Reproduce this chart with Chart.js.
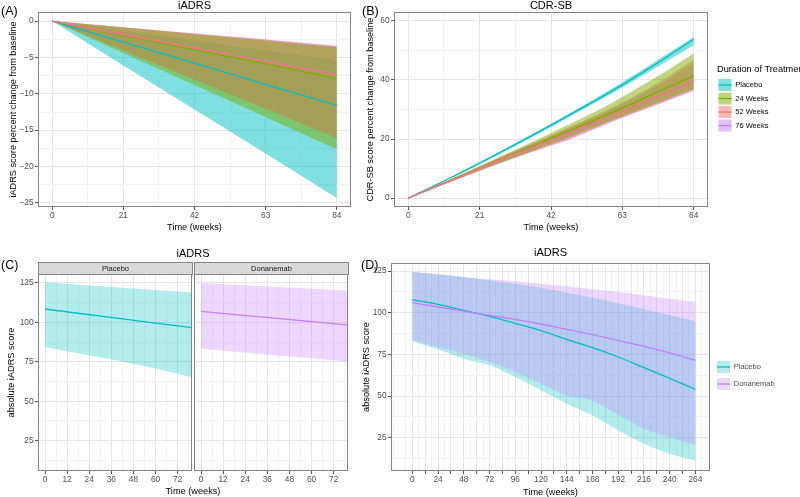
<!DOCTYPE html>
<html>
<head>
<meta charset="utf-8">
<script src="https://cdn.jsdelivr.net/npm/chart.js@4.4.1/dist/chart.umd.min.js"></script>
<style>
html,body{margin:0;padding:0;background:#fff;}
body{position:relative;width:800px;height:497px;overflow:hidden;font-family:"Liberation Sans",Arial,sans-serif;}
canvas{position:absolute;display:block;}
.tag{position:absolute;font-size:12.5px;line-height:13px;color:#000;}
.ttl{position:absolute;text-align:center;font-size:11px;line-height:11px;color:#000;}
.strip{position:absolute;box-sizing:border-box;background:#d9d9d9;border:1px solid #858585;font-size:7.5px;line-height:11px;text-align:center;color:#1a1a1a;}
.axt{position:absolute;text-align:center;font-size:9.2px;line-height:9px;color:#000;}
</style>
</head>
<body>
<canvas id="cA" width="360" height="235" style="left:0;top:0;width:360px;height:235px"></canvas>
<canvas id="cB" width="438" height="235" style="left:362px;top:0;width:438px;height:235px"></canvas>
<canvas id="cC1" width="193" height="257" style="left:0;top:240px;width:193px;height:257px"></canvas>
<canvas id="cC2" width="160" height="257" style="left:193px;top:240px;width:160px;height:257px"></canvas>
<canvas id="cD" width="444" height="257" style="left:356px;top:240px;width:444px;height:257px"></canvas>
<div class="tag" style="left:1px;top:5px">(A)</div>
<div class="tag" style="left:362px;top:5px">(B)</div>
<div class="tag" style="left:1px;top:259px">(C)</div>
<div class="tag" style="left:361px;top:259px">(D)</div>
<div class="ttl" style="left:38px;top:248px;width:310px">iADRS</div>
<div class="strip" style="left:38px;top:262px;width:155px;height:13px">Placebo</div>
<div class="strip" style="left:194px;top:262px;width:155px;height:13px">Donanemab</div>
<div class="axt" style="left:38px;top:487px;width:310px">Time (weeks)</div>
<script>
// ================= DATA =================
// Panel A: iADRS percent change from baseline
const weeksA = [0, 21, 42, 63, 84];
const aPlaceboMean = [0, -2.9, -5.8, -8.7, -11.6];
const aPlaceboUp   = [0, -1.35, -2.7, -4.05, -5.4];
const aPlaceboLo   = [0, -6.1, -12.15, -18.2, -24.3];
const a24Mean = [0, -2.0, -3.95, -5.9, -7.9];
const a24Up   = [0, -0.9, -1.8, -2.7, -3.6];
const a24Lo   = [0, -4.4, -8.8, -13.2, -17.6];
const a52Mean = [0, -1.85, -3.7, -5.55, -7.4];
const a52Up   = [0, -0.85, -1.7, -2.55, -3.45];
const a52Lo   = [0, -4.05, -8.05, -12.1, -16.1];
const a76Mean = [0, -1.85, -3.7, -5.55, -7.4];
const a76Up   = [0, -0.85, -1.7, -2.55, -3.4];
const a76Lo   = [0, -4.0, -8.0, -12.0, -16.0];

// Panel B: CDR-SB percent change from baseline
const weeksB = [0, 12, 24, 36, 48, 60, 72, 84];
const bPlaceboMean = [0, 6.6, 13.6, 20.9, 28.5, 36.3, 44.8, 53.8];
const bPlaceboUp   = [0, 6.8, 14.0, 21.4, 29.1, 37.1, 45.8, 54.6];
const bPlaceboLo   = [0, 6.4, 13.2, 20.4, 27.9, 35.5, 43.6, 51.8];
const b24Mean = [0, 5.8, 11.7, 17.4, 23.1, 29.0, 35.2, 41.4];
const b24Up   = [0, 6.1, 12.4, 18.7, 25.3, 32.3, 40.3, 49.0];
const b24Lo   = [0, 5.3, 10.6, 15.8, 21.0, 26.4, 31.7, 37.0];
const b52Mean = [0, 5.7, 11.5, 17.0, 22.5, 28.0, 33.8, 39.8];
const b52Up   = [0, 6.1, 12.3, 18.3, 24.3, 30.7, 38.0, 46.8];
const b52Lo   = [0, 5.3, 10.6, 15.5, 20.4, 26.1, 31.3, 36.6];
const b76Mean = [0, 5.6, 11.4, 16.9, 22.4, 27.9, 33.7, 39.6];
const b76Up   = [0, 6.0, 12.1, 18.0, 24.0, 30.2, 37.2, 45.6];
const b76Lo   = [0, 5.2, 10.5, 15.4, 20.1, 25.8, 31.0, 36.3];

// Panel C: absolute iADRS by arm (facets)
const weeksC = [0, 20, 40, 60, 80];
const cPlaceboMean = [108.5, 105.5, 102.6, 99.6, 96.7];
const cPlaceboUp   = [125.4, 123.8, 122.2, 120.6, 118.9];
const cPlaceboLo   = [84.2, 80.0, 75.6, 70.8, 65.2];
const cDonaMean = [107.0, 104.8, 102.7, 100.5, 98.3];
const cDonaUp   = [125.0, 123.8, 122.6, 121.4, 120.2];
const cDonaLo   = [83.3, 81.3, 79.2, 77.2, 75.1];

// Panel D: absolute iADRS long-term projection
const weeksD = [0, 24, 48, 72, 96, 120, 144, 168, 192, 216, 240, 264];
const dPlaceboMean = [107.8, 105.0, 101.4, 97.8, 93.6, 89.2, 84.0, 79.0, 73.4, 67.0, 60.6, 54.0];
const dPlaceboUp   = [124.4, 122.9, 121.4, 119.5, 117.4, 114.9, 112.0, 109.0, 105.6, 102.0, 98.4, 94.8];
const dPlaceboLo   = [82.8, 78.0, 72.4, 68.4, 61.4, 53.4, 45.4, 38.4, 29.4, 21.4, 15.4, 11.2];
const dDonaMean = [106.0, 103.4, 100.9, 98.4, 96.0, 93.2, 90.0, 86.8, 83.4, 79.8, 75.9, 71.4];
const dDonaUp   = [124.6, 123.0, 121.4, 120.0, 118.8, 117.4, 115.8, 114.0, 112.4, 110.4, 108.4, 106.4];
const dDonaLo   = [83.4, 79.4, 75.4, 70.4, 64.4, 57.4, 50.4, 47.0, 38.8, 30.4, 25.4, 20.4];

// Legends / categories
const durationGroups = ['Placebo', '24 Weeks', '52 Weeks', '76 Weeks'];
const armGroups = ['Placebo', 'Donanemab'];

// Tick labels and breaks
const ticksA_x = [0, 21, 42, 63, 84];
const minorA_x = [10.5, 31.5, 52.5, 73.5];
const ticksA_y = [0, -5, -10, -15, -20, -25];
const minorA_y = [-2.5, -7.5, -12.5, -17.5, -22.5];
const ticksB_y = [0, 20, 40, 60];
const minorB_y = [10, 30, 50];
const ticksC_x = [0, 12, 24, 36, 48, 60, 72];
const minorC_x = [6, 18, 30, 42, 54, 66, 78];
const ticksCD_y = [25, 50, 75, 100, 125];
const minorCD_y = [12.5, 37.5, 62.5, 87.5, 112.5];
const ticksD_x = [0, 24, 48, 72, 96, 120, 144, 168, 192, 216, 240, 264];
const breaksD_x = [12, 36, 60, 84, 108, 132, 156, 180, 204, 228, 252];
const minorD_x = [-18, -6, 6, 18, 30, 42, 54, 66, 78, 90, 102, 114, 126, 138, 150, 162, 174, 186, 198, 210, 222, 234, 246, 258, 270];

// ================= STYLE =================
const FAM = '"Liberation Sans", Arial, sans-serif';
Chart.defaults.font.family = FAM;
Chart.defaults.color = '#4d4d4d';
const CYAN = '#00BFC4', GREEN = '#7CAE00', RED = '#F8766D', PURPLE = '#C77CFF';
const GRID_MAJ = '#e4e4e4', GRID_MIN = '#f2f2f2', TICK_COL = '#555555', BORDER_COL = '#858585';
const TICK_FS = 8.3;
function rgba(hex, a) { const n = parseInt(hex.slice(1), 16); return `rgba(${n >> 16},${(n >> 8) & 255},${n & 255},${a})`; }
const has = (arr, v) => arr.some(t => Math.abs(t - v) < 1e-6);
const fmt = v => v < 0 ? '\u2212' + Math.abs(v) : String(v);

function scale(o) {
  const major = o.major.concat(o.breaks || []);
  const all = major.concat(o.minor || []).sort((a, b) => a - b);
  const vert = o.position === 'left' || o.position === 'right';
  return {
    type: 'linear', position: o.position, min: o.min, max: o.max,
    afterBuildTicks: s => { s.ticks = all.map(v => ({ value: v })); },
    afterFit: s => { if (vert) s.width = o.size; else s.height = o.size; },
    grid: {
      color: c => (c.tick && has(major, c.tick.value)) ? GRID_MAJ : GRID_MIN,
      lineWidth: 1,
      drawTicks: o.drawTicks !== false, tickLength: 3, tickWidth: 1,
      tickColor: c => (c.tick && has(major, c.tick.value)) ? TICK_COL : 'rgba(0,0,0,0)'
    },
    border: { display: false },
    ticks: {
      display: o.labels !== false, autoSkip: false, maxRotation: 0, minRotation: 0,
      padding: vert ? 1.5 : 0.5, font: { size: TICK_FS }, color: '#4d4d4d',
      callback: v => has(o.major, v) ? fmt(v) : ''
    },
    title: o.title ? { display: true, text: o.title, color: '#000', font: { size: 9.2, lineHeight: o.titleLH || 1.2 }, padding: o.titlePad } : { display: false }
  };
}
function dummyRight(w) {
  return { type: 'linear', position: 'right', display: true, grid: { display: false, drawTicks: false }, ticks: { display: false }, border: { display: false }, afterFit: s => { s.width = w; } };
}
const pts = (xs, ys) => xs.map((x, i) => ({ x: x, y: ys[i] }));
function band(xs, up, lo, col, a, order, smooth) {
  const mode = smooth ? 'monotone' : 'default';
  return [
    { data: pts(xs, up), fill: '+1', backgroundColor: rgba(col, a), borderColor: 'rgba(0,0,0,0)', borderWidth: 0, pointRadius: 0, order: order, cubicInterpolationMode: mode },
    { data: pts(xs, lo), fill: false, borderColor: 'rgba(0,0,0,0)', borderWidth: 0, pointRadius: 0, order: order, cubicInterpolationMode: mode }
  ];
}
function meanLine(xs, ys, col, order, smooth) {
  return { data: pts(xs, ys), fill: false, borderColor: col, borderWidth: 1.3, pointRadius: 0, order: order, cubicInterpolationMode: smooth ? 'monotone' : 'default' };
}
const frame = {
  id: 'frame',
  afterDatasetsDraw(ch) {
    const { ctx, chartArea: a } = ch;
    ctx.save(); ctx.strokeStyle = BORDER_COL; ctx.lineWidth = 1;
    const l = Math.round(a.left) + 0.5, t = Math.round(a.top) + 0.5, r = Math.round(a.right) - 0.5, b = Math.round(a.bottom) - 0.5;
    ctx.strokeRect(l, t, r - l, b - t); ctx.restore();
  }
};
const keyLine = {
  id: 'keyLine',
  afterDraw(ch) {
    const lg = ch.legend; if (!lg || !lg.options.display || !lg.legendHitBoxes) return;
    const bw = lg.options.labels.boxWidth, bh = lg.options.labels.boxHeight;
    const ctx = ch.ctx;
    lg.legendHitBoxes.forEach((hb, i) => {
      const it = lg.legendItems[i];
      ctx.save(); ctx.strokeStyle = it.lineColor; ctx.lineWidth = 1.3;
      ctx.beginPath(); const y = hb.top + bh / 2;
      ctx.moveTo(hb.left, y); ctx.lineTo(hb.left + bw, y); ctx.stroke(); ctx.restore();
    });
  }
};
// keeps the legend box at a fixed width so that it reaches the right edge
const legendFix = {
  id: 'legendFix',
  beforeLayout(ch, args, opts) {
    const lg = ch.legend;
    if (lg && !lg.__fixed && opts && opts.width) {
      const f = lg.fit.bind(lg);
      lg.fit = function () { f(); this.width = opts.width; };
      lg.__fixed = true;
    }
  }
};
const base = { responsive: false, animation: false, devicePixelRatio: 1, events: [] };
function titleOpt(text, pt, pb) {
  return { display: true, text: text, fullSize: false, color: '#000', font: { size: 11, weight: 'normal', lineHeight: 1 }, padding: { top: pt, bottom: pb } };
}

// ================= PANEL A =================
const colsDur = [CYAN, GREEN, RED, PURPLE];
new Chart(document.getElementById('cA'), {
  type: 'line',
  data: { datasets: [].concat(
    band(weeksA, aPlaceboUp, aPlaceboLo, CYAN, 0.5, 40, false),
    band(weeksA, a76Up, a76Lo, PURPLE, 0.5, 30, false),
    band(weeksA, a52Up, a52Lo, RED, 0.5, 20, false),
    band(weeksA, a24Up, a24Lo, GREEN, 0.5, 10, false),
    [meanLine(weeksA, aPlaceboMean, CYAN, 4, false),
     meanLine(weeksA, a24Mean, GREEN, 3, false),
     meanLine(weeksA, a76Mean, PURPLE, 2, false),
     meanLine(weeksA, a52Mean, RED, 1, false)]) },
  options: Object.assign({}, base, {
    layout: { padding: { left: 0, right: 9, top: 0, bottom: 0 } },
    plugins: { legend: { display: false }, tooltip: { enabled: false }, title: titleOpt('iADRS', 0, 1) },
    scales: {
      x: scale({ position: 'bottom', min: -4.2, max: 88.2, major: ticksA_x, minor: minorA_x, size: 28, title: 'Time (weeks)', titlePad: { top: 0, bottom: 2.2 } }),
      y: scale({ position: 'left', min: -25.55, max: 1.24, major: ticksA_y, minor: minorA_y, size: 38, title: 'iADRS score percent change from baseline', titlePad: { top: 8, bottom: 0 } })
    }
  }),
  plugins: [frame]
});

// ================= PANEL B =================
new Chart(document.getElementById('cB'), {
  type: 'line',
  data: { datasets: [].concat(
    band(weeksB, bPlaceboUp, bPlaceboLo, CYAN, 0.5, 40, true),
    band(weeksB, b76Up, b76Lo, PURPLE, 0.5, 30, true),
    band(weeksB, b52Up, b52Lo, RED, 0.5, 20, true),
    band(weeksB, b24Up, b24Lo, GREEN, 0.5, 10, true),
    [meanLine(weeksB, bPlaceboMean, CYAN, 4, true),
     meanLine(weeksB, b24Mean, GREEN, 3, true),
     meanLine(weeksB, b76Mean, PURPLE, 2, true),
     meanLine(weeksB, b52Mean, RED, 1, true)]) },
  options: Object.assign({}, base, {
    layout: { padding: { left: 0, right: 0, top: 0, bottom: 0 } },
    plugins: {
      tooltip: { enabled: false },
      title: titleOpt('CDR-SB', 0, 1),
      legendFix: { width: 83 },
      legend: {
        display: true, position: 'right', align: 'start',
        title: { display: true, text: 'Duration of Treatment', position: 'start', color: '#000', font: { size: 9.2, lineHeight: 1.2 }, padding: { top: 64.5, bottom: 2 } },
        labels: {
          boxWidth: 13, boxHeight: 12, padding: 1.5, font: { size: 7.5 }, color: '#1a1a1a',
          generateLabels: () => durationGroups.map((g, i) => ({ text: g, fillStyle: rgba(colsDur[i], 0.5), strokeStyle: 'rgba(0,0,0,0)', lineWidth: 0, hidden: false, datasetIndex: i, lineColor: colsDur[i] }))
        }
      }
    },
    scales: {
      x: scale({ position: 'bottom', min: -4.2, max: 88.2, major: ticksA_x, minor: minorA_x, size: 28, title: 'Time (weeks)', titlePad: { top: 0, bottom: 2.2 } }),
      y: scale({ position: 'left', min: -3.05, max: 63.05, major: ticksB_y, minor: minorB_y, size: 32, title: 'CDR-SB score percent change from baseline', titlePad: { top: 2.5, bottom: 0 } }),
      y2: dummyRight(9)
    }
  }),
  plugins: [legendFix, frame, keyLine]
});

// ================= PANEL C =================
new Chart(document.getElementById('cC1'), {
  type: 'line',
  data: { datasets: [].concat(
    band(weeksC, cPlaceboUp, cPlaceboLo, CYAN, 0.3, 10, false),
    [meanLine(weeksC, cPlaceboMean, CYAN, 1, false)]) },
  options: Object.assign({}, base, {
    layout: { padding: { left: 0, right: 1, top: 34, bottom: 0 } },
    plugins: { legend: { display: false }, tooltip: { enabled: false }, title: { display: false } },
    scales: {
      x: scale({ position: 'bottom', min: -3.8, max: 79.8, major: ticksC_x, minor: minorC_x, size: 26 }),
      y: scale({ position: 'left', min: 5.75, max: 130.7, major: ticksCD_y, minor: minorCD_y, size: 38, title: 'absolute iADRS score', titlePad: { top: 6.2, bottom: 0 } })
    }
  }),
  plugins: [frame]
});
new Chart(document.getElementById('cC2'), {
  type: 'line',
  data: { datasets: [].concat(
    band(weeksC, cDonaUp, cDonaLo, PURPLE, 0.3, 10, false),
    [meanLine(weeksC, cDonaMean, PURPLE, 1, false)]) },
  options: Object.assign({}, base, {
    layout: { padding: { left: 0, right: 5, top: 34, bottom: 0 } },
    plugins: { legend: { display: false }, tooltip: { enabled: false }, title: { display: false } },
    scales: {
      x: scale({ position: 'bottom', min: -3.8, max: 79.8, major: ticksC_x, minor: minorC_x, size: 26 }),
      y: scale({ position: 'left', min: 5.75, max: 130.7, major: ticksCD_y, minor: minorCD_y, size: 1, labels: false, drawTicks: false })
    }
  }),
  plugins: [frame]
});

// ================= PANEL D =================
const colsArm = [CYAN, PURPLE];
new Chart(document.getElementById('cD'), {
  type: 'line',
  data: { datasets: [].concat(
    band(weeksD, dPlaceboUp, dPlaceboLo, CYAN, 0.3, 20, true),
    band(weeksD, dDonaUp, dDonaLo, PURPLE, 0.3, 10, true),
    [meanLine(weeksD, dPlaceboMean, CYAN, 2, true),
     meanLine(weeksD, dDonaMean, PURPLE, 1, true)]) },
  options: Object.assign({}, base, {
    layout: { padding: { left: 0, right: 0, top: 0, bottom: 0 } },
    plugins: {
      tooltip: { enabled: false },
      title: titleOpt('iADRS', 7.2, 4.8),
      legendFix: { width: 88 },
      legend: {
        display: true, position: 'right', align: 'start',
        title: { display: true, text: '', font: { size: 9, lineHeight: 1.2 }, padding: { top: 105.2, bottom: 0 } },
        labels: {
          boxWidth: 13, boxHeight: 12, padding: 5, font: { size: 7.5 }, color: '#1a1a1a',
          generateLabels: () => armGroups.map((g, i) => ({ text: g, fillStyle: rgba(colsArm[i], 0.3), strokeStyle: 'rgba(0,0,0,0)', lineWidth: 0, hidden: false, datasetIndex: i, lineColor: colsArm[i] }))
        }
      }
    },
    scales: {
      x: scale({ position: 'bottom', min: -19.9, max: 277.6, major: ticksD_x, breaks: breaksD_x, minor: minorD_x, size: 26, title: 'Time (weeks)', titleLH: 1, titlePad: { top: 0, bottom: 0 } }),
      y: scale({ position: 'left', min: 5.0, max: 129.8, major: ticksCD_y, minor: minorCD_y, size: 35, title: 'absolute iADRS score', titlePad: { top: 5.2, bottom: 0 } }),
      y2: dummyRight(2)
    }
  }),
  plugins: [legendFix, frame, keyLine]
});
</script>
</body>
</html>
